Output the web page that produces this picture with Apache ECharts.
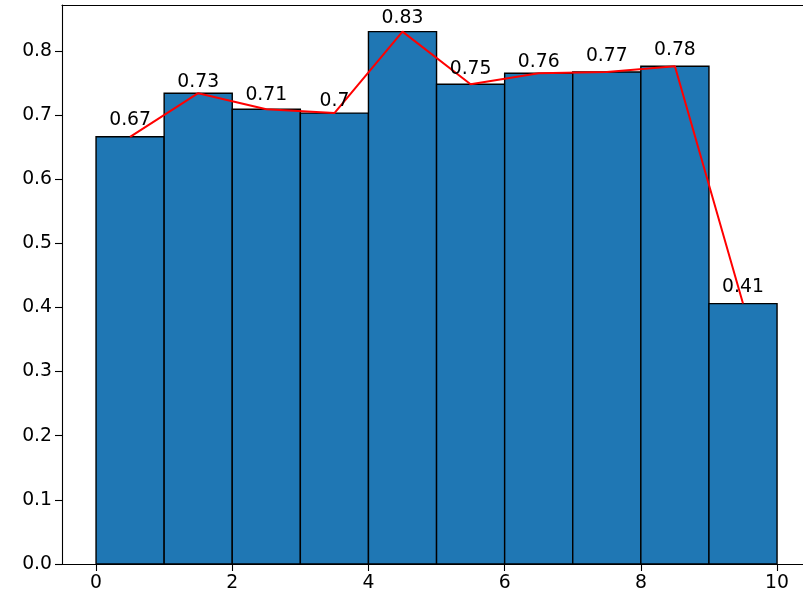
<!DOCTYPE html>
<html>
<head>
<meta charset="utf-8">
<script src="https://cdn.jsdelivr.net/npm/echarts@6/dist/echarts.min.js"></script>
<style>html,body{margin:0;padding:0;background:#fff}#c{width:803px;height:601px}</style>
</head>
<body>
<div id="c"></div>
<script>
var binStarts = [0, 1, 2, 3, 4, 5, 6, 7, 8, 9];
var binWidth = 1;
var values = [0.666, 0.734, 0.709, 0.703, 0.830, 0.748, 0.765, 0.767, 0.776, 0.406];
var labels = ["0.67", "0.73", "0.71", "0.7", "0.83", "0.75", "0.76", "0.77", "0.78", "0.41"];
var xTicks = [0, 2, 4, 6, 8, 10];
var yTicks = [0.0, 0.1, 0.2, 0.3, 0.4, 0.5, 0.6, 0.7, 0.8];

var FONT = 'DejaVu Sans';
var FS = 18.8;

var barData = binStarts.map(function (s, i) { return [s, s + binWidth, values[i]]; });
var lineData = binStarts.map(function (s, i) { return [s + binWidth / 2, values[i]]; });
var labelData = binStarts.map(function (s, i) { return [s + binWidth / 2, parseFloat(labels[i]) + 0.01, labels[i]]; });

// visible part of the axis: the plot is cut at the right edge of the picture
var X_MIN = -0.5;
var X_MAX = -0.5 + 741 / 68.1;

var chart = echarts.init(document.getElementById('c'), null, { renderer: 'canvas' });
chart.setOption({
  animation: false,
  backgroundColor: '#fff',
  grid: { left: 62, top: 5, right: 0, height: 559, containLabel: false },
  xAxis: [{
    type: 'value', min: X_MIN, max: X_MAX,
    axisLine: { show: true, onZero: false, lineStyle: { color: '#000', width: 1.1 } },
    axisTick: { show: true, length: 7, customValues: xTicks, lineStyle: { color: '#000', width: 1.1 } },
    axisLabel: { show: true, customValues: xTicks, margin: 10, color: '#000', fontFamily: FONT, fontSize: FS,
      formatter: function (v) { return String(v); } },
    splitLine: { show: false }
  }, {
    type: 'value', position: 'top', min: X_MIN, max: X_MAX,
    axisLine: { show: true, onZero: false, lineStyle: { color: '#000', width: 1.1 } },
    axisTick: { show: false }, axisLabel: { show: false }, splitLine: { show: false }
  }],
  yAxis: {
    type: 'value', min: 0, max: 0.8715,
    axisLine: { show: true, onZero: false, lineStyle: { color: '#000', width: 1.1 } },
    axisTick: { show: true, length: 7, customValues: yTicks, lineStyle: { color: '#000', width: 1.1 } },
    axisLabel: { show: true, customValues: yTicks, margin: 10, color: '#000', fontFamily: FONT, fontSize: FS,
      formatter: function (v) { return Number(v).toFixed(1); } },
    splitLine: { show: false }
  },
  series: [{
    type: 'custom',
    xAxisIndex: 0,
    data: barData,
    renderItem: function (params, api) {
      var p0 = api.coord([api.value(0), 0]);
      var p1 = api.coord([api.value(1), api.value(2)]);
      return {
        type: 'rect',
        shape: { x: p0[0], y: p1[1], width: p1[0] - p0[0], height: p0[1] - p1[1] },
        style: { fill: '#1f77b4', stroke: '#000', lineWidth: 1.4 }
      };
    },
    z: 2
  }, {
    type: 'line',
    xAxisIndex: 0,
    data: lineData,
    showSymbol: false,
    symbol: 'none',
    lineStyle: { color: '#ff0000', width: 2 },
    z: 3
  }, {
    type: 'custom',
    xAxisIndex: 0,
    data: labelData,
    renderItem: function (params, api) {
      var p = api.coord([api.value(0), api.value(1)]);
      return {
        type: 'text',
        x: p[0], y: p[1] + 2,
        style: { text: labels[params.dataIndex], fill: '#000', font: FS + 'px "' + FONT + '"',
          align: 'center', verticalAlign: 'bottom' }
      };
    },
    z: 4
  }]
});
</script>
</body>
</html>
